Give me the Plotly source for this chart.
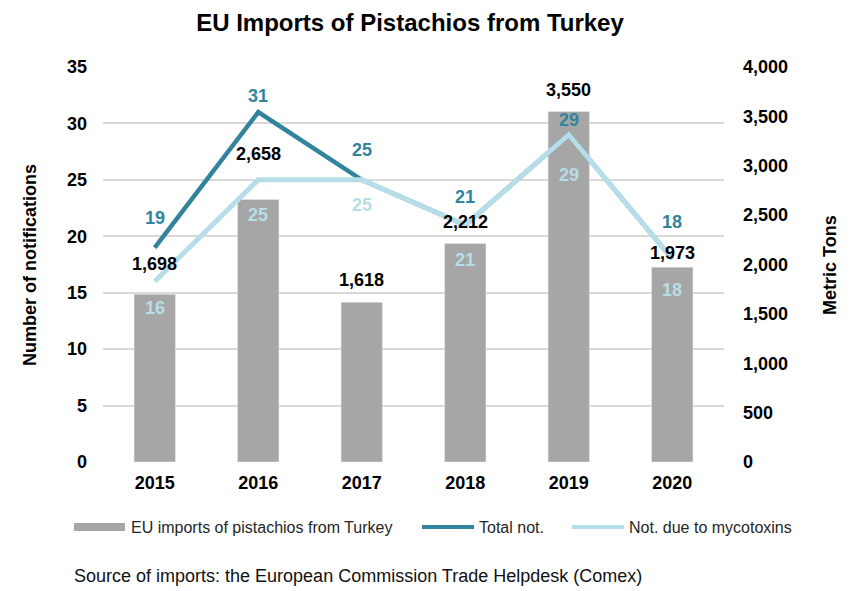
import plotly.graph_objects as go

years = ['2015', '2016', '2017', '2018', '2019', '2020']
imports_tons = [1698, 2658, 1618, 2212, 3550, 1973]
total_not = [19, 31, 25, 21, 29, 18]
myco_not = [16, 25, 25, 21, 29, 18]

# label offsets in px (style only)
bar_lbl_shift = [30, 46, 22, 22, 21, 14]
tot_lbl_shift = [30, 16, 30, 28, 15, 37]
myco_lbl_shift = [-27, -35, -25, -35, -40, -31]

TEAL = '#31849B'
LIGHT = '#B7DEE8'
GRAY = '#A6A6A6'
FONT = 'Liberation Sans, Arial, sans-serif'

# page offset of the plot div (browser body margin)
OFF = 8
W, H = 852 - OFF, 591 - OFF
# plot area in page pixels
L, R, T, B = 103, 724, 67, 462


def px(x):
    return (x - L) / (R - L)


def py(y):
    return (B - y) / (B - T)


fig = go.Figure()
fig.add_trace(go.Bar(x=years, y=imports_tons, marker_color=GRAY, width=0.4,
                     name='EU imports of pistachios from Turkey', yaxis='y'))
fig.add_trace(go.Scatter(x=years, y=total_not, mode='lines', line=dict(color=TEAL, width=4.5),
                         name='Total not.', yaxis='y2'))
fig.add_trace(go.Scatter(x=years, y=myco_not, mode='lines', line=dict(color=LIGHT, width=5),
                         name='Not. due to mycotoxins', yaxis='y2'))

ann = []
lblfont = dict(family=FONT, size=18, weight='bold')
for i, yr in enumerate(years):
    ann.append(dict(x=i, y=imports_tons[i], xref='x', yref='y', text=f'{imports_tons[i]:,}',
                    showarrow=False, yshift=bar_lbl_shift[i], font=dict(lblfont, color='black')))
    ann.append(dict(x=i, y=total_not[i], xref='x', yref='y2', text=str(total_not[i]),
                    showarrow=False, yshift=tot_lbl_shift[i], font=dict(lblfont, color=TEAL)))
    ann.append(dict(x=i, y=myco_not[i], xref='x', yref='y2', text=str(myco_not[i]),
                    showarrow=False, yshift=myco_lbl_shift[i], font=dict(lblfont, color=LIGHT)))

# axis titles
ttlfont = dict(family=FONT, size=18, color='black', weight='bold')
ann.append(dict(x=px(30), y=py(265), xref='paper', yref='paper', text='Number of notifications',
                xanchor='center', yanchor='middle',
                textangle=-90, showarrow=False, font=ttlfont))
ann.append(dict(x=px(830), y=py(265), xref='paper', yref='paper', text='Metric Tons',
                xanchor='center', yanchor='middle',
                textangle=-90, showarrow=False, font=ttlfont))

# manual legend
ly = py(527)
shapes = [
    dict(type='rect', xref='paper', yref='paper', x0=px(74), x1=px(125), y0=py(531), y1=py(523),
         fillcolor=GRAY, line=dict(width=0)),
    dict(type='line', xref='paper', yref='paper', x0=px(422), x1=px(474), y0=ly, y1=ly,
         line=dict(color=TEAL, width=4)),
    dict(type='line', xref='paper', yref='paper', x0=px(572), x1=px(624), y0=ly, y1=ly,
         line=dict(color=LIGHT, width=4)),
]
legfont = dict(family=FONT, size=16, color='#262626')
for xx, txt in [(129, 'EU imports of pistachios from Turkey'), (477, 'Total not.'),
                (627, 'Not. due to mycotoxins')]:
    ann.append(dict(x=px(xx), y=ly, xref='paper', yref='paper', text=txt, showarrow=False,
                    xanchor='left', yanchor='middle', font=legfont))

ann.append(dict(x=px(72), y=py(576), xref='paper', yref='paper', xanchor='left', yanchor='middle',
                text='Source of imports: the European Commission Trade Helpdesk (Comex)',
                showarrow=False, font=dict(family=FONT, size=18, color='#111111')))

tickfont = dict(family=FONT, size=18, color='black', weight='bold')
fig.update_layout(
    width=W, height=H,
    margin=dict(l=L - OFF, r=W - (R - OFF), t=T - OFF, b=H - (B - OFF)),
    paper_bgcolor='white', plot_bgcolor='white',
    showlegend=False,
    title=dict(text='EU Imports of Pistachios from Turkey', x=(410 - OFF) / W, xanchor='center',
               y=1 - (22.5 - OFF) / H, yanchor='middle',
               font=dict(family=FONT, size=24, color='black', weight='bold')),
    xaxis=dict(type='category', range=[-0.5, 5.5], showline=False, ticks='', showgrid=False,
               tickfont=tickfont, ticklabelstandoff=8),
    yaxis=dict(side='right', range=[0, 4000], dtick=500, tickformat=',', showgrid=False,
               zeroline=False, showline=False, ticks='',
               tickfont=tickfont, ticklabelstandoff=18),
    yaxis2=dict(side='left', overlaying='y', range=[0, 35], dtick=5, showgrid=True,
                gridcolor='#D9D9D9', gridwidth=1.5, zeroline=False, showline=False, ticks='',
                tickfont=tickfont, ticklabelstandoff=15),
    annotations=ann,
    shapes=shapes,
)

fig.write_html('out.html')
